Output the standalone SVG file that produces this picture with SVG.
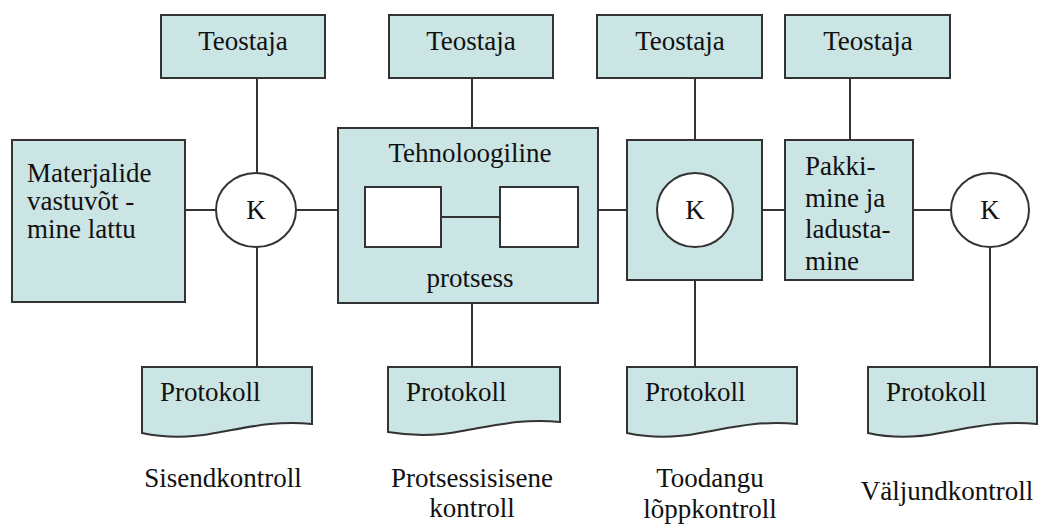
<svg xmlns="http://www.w3.org/2000/svg" width="1040" height="524" viewBox="0 0 1040 524" font-family="'Liberation Serif', 'Times New Roman', serif">
<style>
.box{fill:#cbe4e4;stroke:#333;stroke-width:2}
.white{fill:#fff;stroke:#333;stroke-width:2}
.ln{stroke:#333;stroke-width:2;fill:none}
.t{font-family:'Liberation Serif',serif;font-size:27px;fill:#111}
.c{text-anchor:middle}
</style>
<rect width="1040" height="524" fill="#fff"/>
<g id="connectors">
<line class="ln" x1="257" y1="78" x2="257" y2="173"/>
<line class="ln" x1="257" y1="247" x2="257" y2="367"/>
<line class="ln" x1="185" y1="210" x2="216" y2="210"/>
<line class="ln" x1="296" y1="210" x2="338" y2="210"/>
<line class="ln" x1="472" y1="78" x2="472" y2="128"/>
<line class="ln" x1="472" y1="303" x2="472" y2="367"/>
<line class="ln" x1="598" y1="210" x2="627" y2="210"/>
<line class="ln" x1="695" y1="78" x2="695" y2="140"/>
<line class="ln" x1="695" y1="280" x2="695" y2="367"/>
<line class="ln" x1="762" y1="210" x2="785" y2="210"/>
<line class="ln" x1="850" y1="78" x2="850" y2="140"/>
<line class="ln" x1="913" y1="210" x2="951" y2="210"/>
<line class="ln" x1="990" y1="247" x2="990" y2="367"/>
</g>
<g id="teostaja1"><rect class="box" x="161" y="15" width="164" height="63"/><text class="t c" x="243" y="50">Teostaja</text></g>
<g id="teostaja2"><rect class="box" x="389" y="15" width="164" height="63"/><text class="t c" x="471" y="50">Teostaja</text></g>
<g id="teostaja3"><rect class="box" x="597" y="15" width="165" height="63"/><text class="t c" x="680" y="50">Teostaja</text></g>
<g id="teostaja4"><rect class="box" x="785" y="15" width="165" height="63"/><text class="t c" x="868" y="50">Teostaja</text></g>
<g id="materjalide"><rect class="box" x="12" y="140" width="173" height="162"/>
<text class="t" x="27" y="182">Materjalide</text><text class="t" x="27" y="210">vastuvõt -</text><text class="t" x="27" y="238">mine lattu</text></g>
<g id="k1"><ellipse class="white" cx="256" cy="210" rx="40" ry="37"/><text class="t c" x="256" y="219">K</text></g>
<g id="tehnoloogiline"><rect class="box" x="338" y="128" width="260" height="175"/>
<text class="t c" x="470" y="162">Tehnoloogiline</text>
<rect class="white" x="365" y="187" width="76" height="60"/>
<rect class="white" x="500" y="187" width="78" height="60"/>
<line class="ln" x1="441" y1="217" x2="500" y2="217"/>
<text class="t c" x="470" y="287">protsess</text></g>
<g id="toodangu"><rect class="box" x="627" y="140" width="135" height="140"/>
<ellipse class="white" cx="695" cy="210" rx="38" ry="37"/><text class="t c" x="695" y="219">K</text></g>
<g id="pakkimine"><rect class="box" x="785" y="140" width="128" height="140"/>
<text class="t" x="805" y="175">Pakki-</text><text class="t" x="805" y="207">mine ja</text><text class="t" x="805" y="238">ladusta-</text><text class="t" x="805" y="270">mine</text></g>
<g id="k4"><ellipse class="white" cx="990" cy="210" rx="39" ry="37"/><text class="t c" x="990" y="219">K</text></g>
<g id="protokoll1"><path class="box" d="M142,367 H312 V424 C275,420 245,428 215,433 C190,438 165,438 142,433 Z"/><text class="t" x="160" y="401">Protokoll</text></g>
<g id="protokoll2"><path class="box" d="M388,367 H560 V422 C522,418 492,426 462,431 C437,436 412,436 388,432 Z"/><text class="t" x="406" y="401">Protokoll</text></g>
<g id="protokoll3"><path class="box" d="M627,367 H797 V424 C760,420 730,428 700,433 C675,438 650,438 627,433 Z"/><text class="t" x="645" y="401">Protokoll</text></g>
<g id="protokoll4"><path class="box" d="M868,367 H1037 V424 C1000,420 970,428 940,433 C915,438 890,438 868,433 Z"/><text class="t" x="886" y="401">Protokoll</text></g>
<g id="labels">
<text class="t c" x="223" y="487">Sisendkontroll</text>
<text class="t c" x="472" y="487">Protsessisisene</text>
<text class="t c" x="472" y="517">kontroll</text>
<text class="t c" x="710" y="487">Toodangu</text>
<text class="t c" x="710" y="518">lõppkontroll</text>
<text class="t c" x="947" y="500">Väljundkontroll</text>
</g>
</svg>
